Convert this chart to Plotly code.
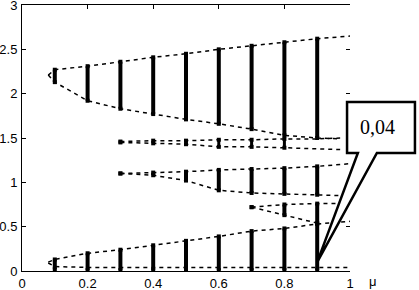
import plotly.graph_objects as go

# ---------------- data ----------------
mu = [0.1, 0.2, 0.3, 0.4, 0.5, 0.6, 0.7, 0.8, 0.9]

# band A (around 2)
A_hi_x = [0.08, 0.1, 0.2, 0.3, 0.4, 0.5, 0.6, 0.7, 0.8, 0.9, 1.0]
A_hi = [2.21, 2.27, 2.31, 2.36, 2.41, 2.45, 2.50, 2.54, 2.58, 2.62, 2.65]
A_lo_x = [0.08, 0.1, 0.2, 0.3, 0.4, 0.5, 0.6, 0.7, 0.8, 0.9, 0.97]
A_lo = [2.21, 2.13, 1.92, 1.83, 1.77, 1.71, 1.66, 1.60, 1.53, 1.50, 1.49]
A_bar_mu = [0.1, 0.2, 0.3, 0.4, 0.5, 0.6, 0.7, 0.8, 0.9]

# band B (around 1.45)
B_x = [0.3, 0.4, 0.5, 0.6, 0.7, 0.8, 0.9, 0.97]
B_hi = [1.46, 1.47, 1.47, 1.48, 1.48, 1.49, 1.49, 1.50]
B_lo = [1.45, 1.44, 1.43, 1.40, 1.40, 1.39, 1.38, 1.37]
B_bar_mu = [0.3, 0.4, 0.5, 0.6, 0.7, 0.8]

# band C (around 1.1)
C_hi_x = [0.3, 0.4, 0.5, 0.6, 0.7, 0.8, 0.9, 1.0]
C_hi = [1.10, 1.11, 1.12, 1.14, 1.15, 1.16, 1.18, 1.21]
C_lo_x = [0.3, 0.4, 0.5, 0.6, 0.7, 0.8, 0.9, 0.97]
C_lo = [1.10, 1.08, 1.02, 0.91, 0.88, 0.87, 0.86, 0.85]
C_bar_mu = [0.3, 0.4, 0.5, 0.6, 0.7, 0.8, 0.9]

# band D (around 0.7)
D_hi_x = [0.7, 0.8, 0.9, 0.97]
D_hi = [0.72, 0.75, 0.76, 0.76]
D_lo_x = [0.7, 0.8, 0.9]
D_lo = [0.72, 0.63, 0.54]
D_bar_mu = [0.7, 0.8, 0.9]

# band E (near 0)
E_hi_x = [0.08, 0.1, 0.2, 0.3, 0.4, 0.5, 0.6, 0.7, 0.8, 0.9, 1.0]
E_hi = [0.10, 0.13, 0.20, 0.24, 0.29, 0.34, 0.39, 0.45, 0.48, 0.53, 0.56]
E_lo_x = [0.08, 0.1, 0.2, 0.3, 0.4, 0.5, 0.6, 0.7, 0.8, 0.9, 1.0]
E_lo = [0.09, 0.05, 0.04, 0.04, 0.04, 0.04, 0.04, 0.04, 0.04, 0.04, 0.04]
E_bar_mu = [0.1, 0.2, 0.3, 0.4, 0.5, 0.6, 0.7, 0.8, 0.9]
E_bar_bottom = [0.02, 0.01, 0.01, 0.01, 0.01, 0.01, 0.01, 0.01, 0.01]

callout_text = "0,04"
callout_point = (0.9, 0.10)

x_ticks = [0, 0.2, 0.4, 0.6, 0.8, 1]
x_ticklabels = ["0", "0.2", "0.4", "0.6", "0.8", "1"]
y_ticks = [0, 0.5, 1, 1.5, 2, 2.5, 3]
y_ticklabels = ["0", "0.5", "1", "1.5", "2", "2.5", "3"]

# ---------------- figure ----------------
fig = go.Figure()
DASH = "4px,4px"


def env(x, y):
    fig.add_trace(go.Scatter(x=x, y=y, mode="lines",
                             line=dict(color="black", width=1.5, dash=DASH),
                             hoverinfo="skip", showlegend=False))


def lookup(xs, ys, m):
    return ys[min(range(len(xs)), key=lambda i: abs(xs[i] - m))]


def bars(ms, hix, hi, lox, lo, bottoms=None, width=4):
    bx, by = [], []
    for i, m in enumerate(ms):
        top = lookup(hix, hi, m)
        bot = bottoms[i] if bottoms is not None else lookup(lox, lo, m)
        bx += [m, m, None]
        by += [bot, top, None]
    fig.add_trace(go.Scatter(x=bx, y=by, mode="lines+markers",
                             line=dict(color="black", width=width),
                             marker=dict(color="black", size=4, symbol="square"),
                             hoverinfo="skip", showlegend=False))


for (hx, hy, lx, ly) in [(A_hi_x, A_hi, A_lo_x, A_lo),
                         (B_x, B_hi, B_x, B_lo),
                         (C_hi_x, C_hi, C_lo_x, C_lo),
                         (D_hi_x, D_hi, D_lo_x, D_lo),
                         (E_hi_x, E_hi, E_lo_x, E_lo)]:
    env(hx, hy)
    env(lx, ly)

bars(A_bar_mu, A_hi_x, A_hi, A_lo_x, A_lo)
bars(B_bar_mu, B_x, B_hi, B_x, B_lo, width=3)
bars(C_bar_mu, C_hi_x, C_hi, C_lo_x, C_lo)
bars(D_bar_mu, D_hi_x, D_hi, D_lo_x, D_lo)
bars(E_bar_mu, E_hi_x, E_hi, E_lo_x, E_lo, bottoms=E_bar_bottom)

# invisible trace for the right-hand tick axis
fig.add_trace(go.Scatter(x=[0], y=[0], yaxis="y2", mode="markers",
                         marker=dict(opacity=0), hoverinfo="skip", showlegend=False))

axis_font = dict(family="Liberation Sans, Arial, sans-serif", size=13, color="black")

fig.update_layout(
    width=419, height=290,
    margin=dict(l=22, r=69, t=5, b=19, autoexpand=False),
    paper_bgcolor="white", plot_bgcolor="white",
    font=axis_font,
    xaxis=dict(range=[0, 1], tickvals=x_ticks, ticktext=x_ticklabels,
               ticks="inside", ticklen=4, tickcolor="black",
               showline=True, linecolor="black", linewidth=1, mirror="ticks",
               showgrid=False, zeroline=False, tickfont=axis_font,
               automargin=False, ticklabelstandoff=0),
    yaxis=dict(range=[0, 3], tickvals=y_ticks, ticktext=y_ticklabels,
               ticks="inside", ticklen=4, tickcolor="black",
               showline=True, linecolor="black", linewidth=1,
               showgrid=False, zeroline=False, tickfont=axis_font,
               automargin=False, ticklabeloverflow="allow", ticklabelstandoff=1),
    yaxis2=dict(range=[0, 3], tickvals=y_ticks, overlaying="y", side="right",
                ticks="inside", ticklen=4, tickcolor="black", automargin=False,
                showticklabels=False, showline=False, showgrid=False, zeroline=False),
)

# callout (paper coordinates relative to plot area)
px_tip = callout_point[0]
py_tip = callout_point[1] / 3.0
box_l, box_r, box_b, box_t = 0.991, 1.198, 0.444, 0.635
ptr_l, ptr_r = 1.024, 1.082
path = (f"M {ptr_l},{box_b} L {box_l},{box_b} L {box_l},{box_t} L {box_r},{box_t} "
        f"L {box_r},{box_b} L {ptr_r},{box_b} L {px_tip},{py_tip} Z")
fig.add_shape(type="path", path=path, xref="paper", yref="paper",
              fillcolor="white", line=dict(color="black", width=2.5), layer="above")

fig.add_annotation(x=(box_l + box_r) / 2 - 0.01, y=(box_b + box_t) / 2,
                   xref="paper", yref="paper", text=callout_text, showarrow=False,
                   xanchor="center", yanchor="middle",
                   font=dict(family="Liberation Serif, Times New Roman, serif",
                             size=20, color="black"))

fig.add_annotation(x=1.07, y=-0.04, xref="paper", yref="paper", text="μ",
                   showarrow=False, xanchor="center", yanchor="middle",
                   font=axis_font)

fig.write_html("out.html", config={"displayModeBar": False},
               post_script="document.body.style.margin='0';document.body.style.padding='0';")
